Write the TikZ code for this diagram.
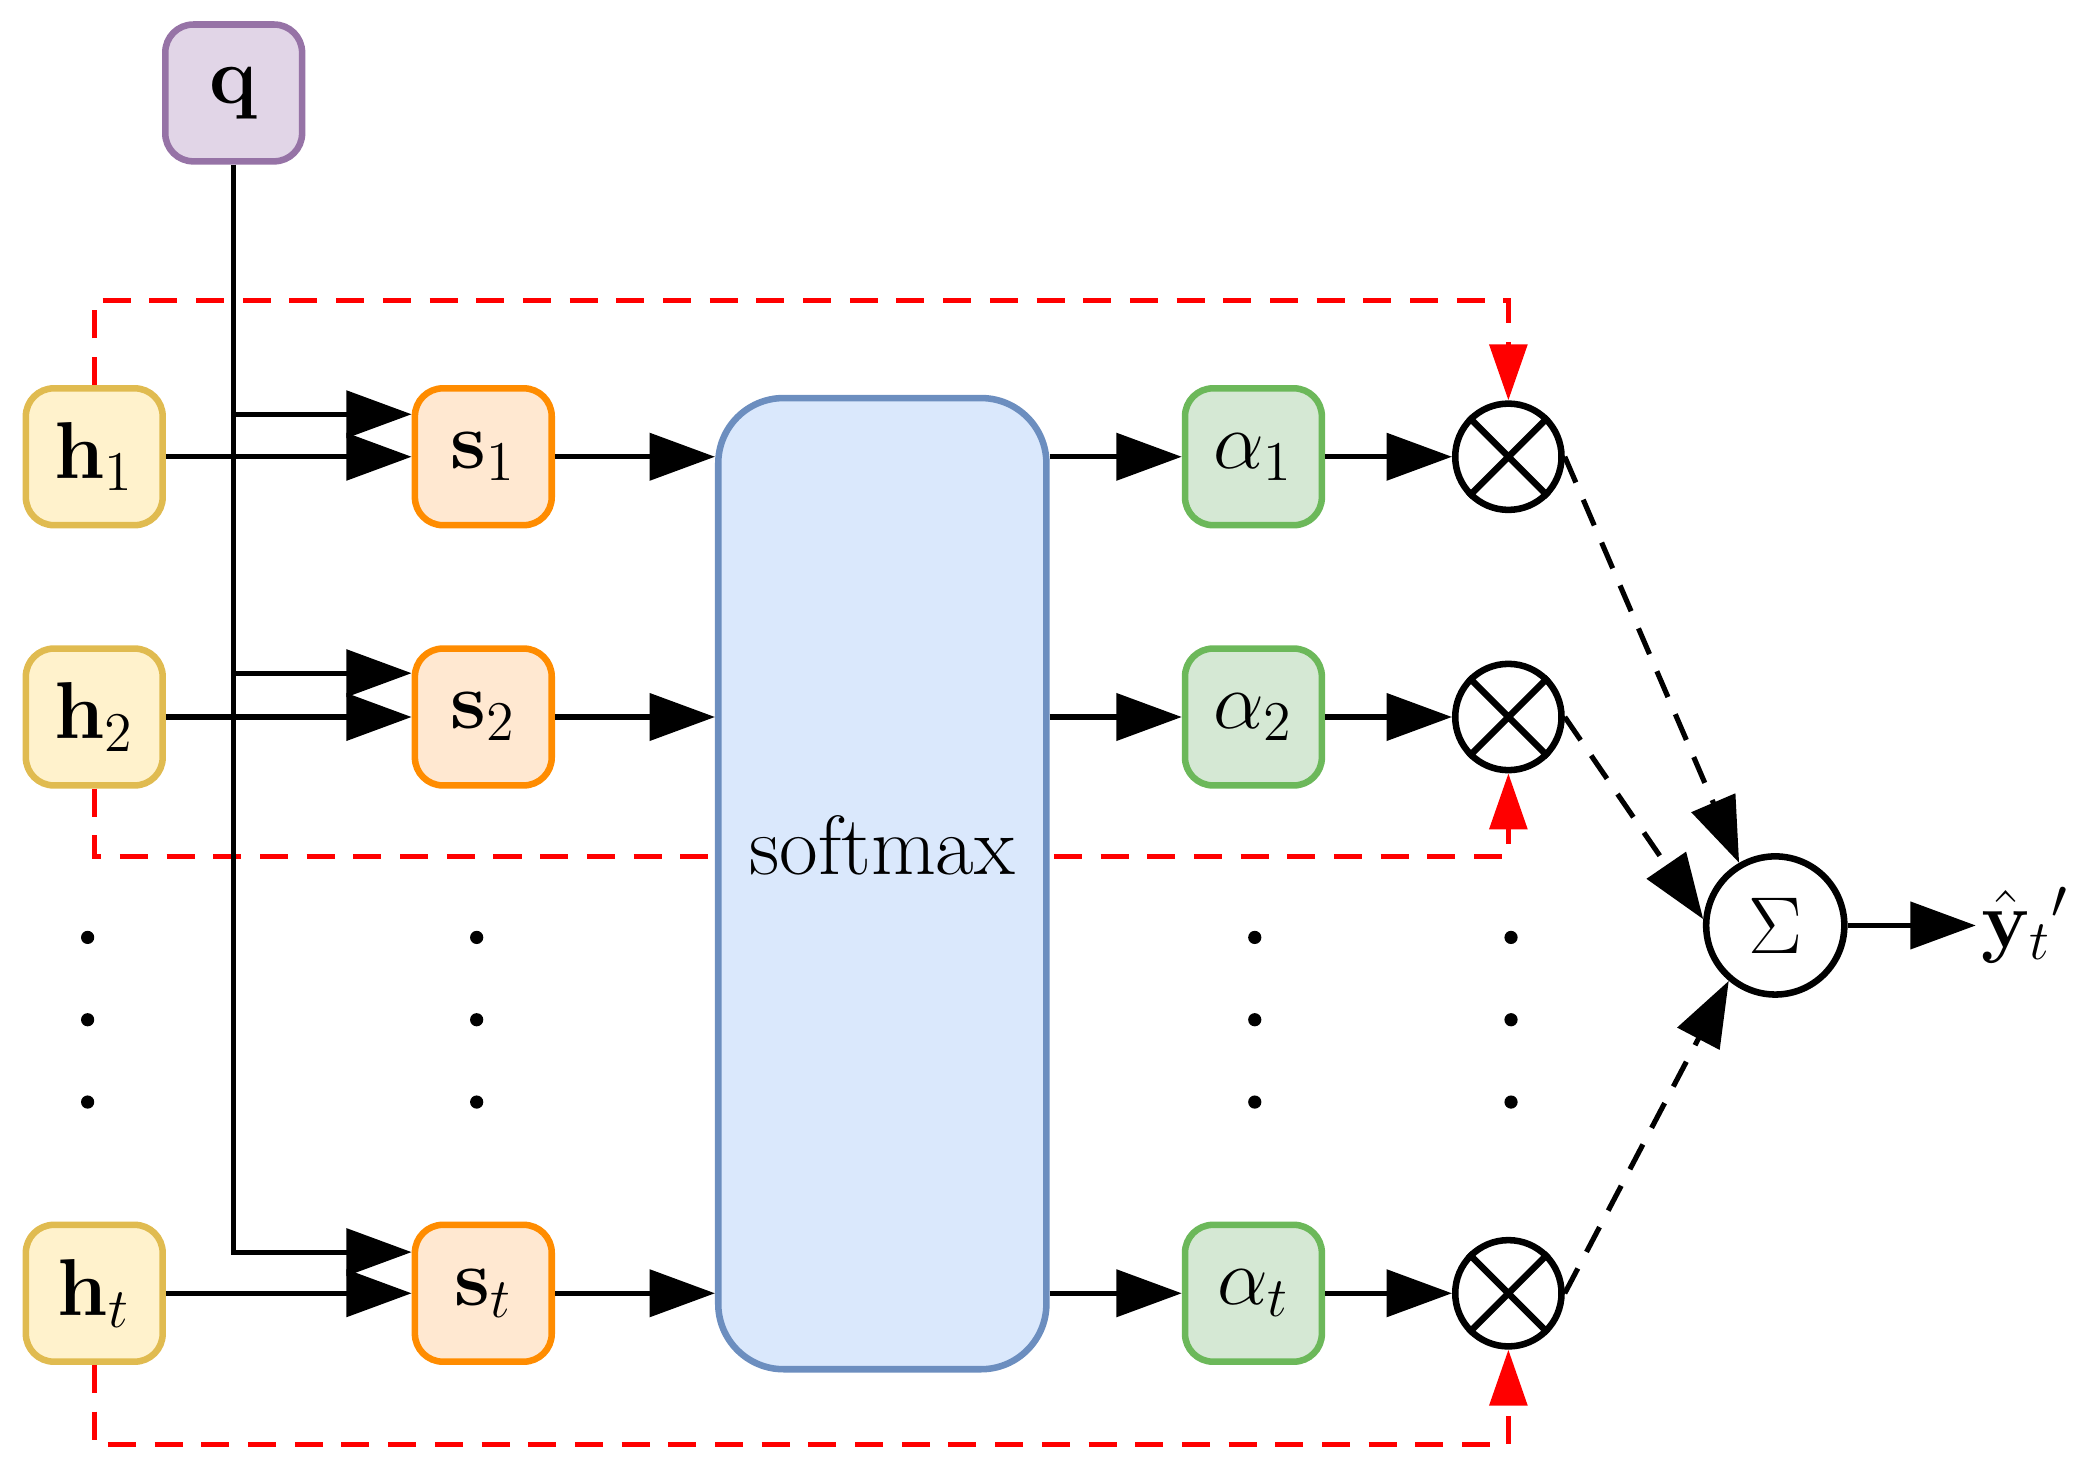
\documentclass[tikz,border=0pt]{standalone}
\usepackage{amsmath,amssymb}
\usetikzlibrary{arrows.meta}
\begin{document}
\begin{tikzpicture}[x=0.01cm,y=-0.01cm,
 box/.style={draw,line width=1.4pt,rounded corners=6pt,minimum width=1.03cm,minimum height=1.03cm,inner sep=0pt,font=\fontsize{18}{20}\selectfont},
 hb/.style={box,fill=hf,draw=hd},
 sb/.style={box,fill=orange!18,draw=orange!90!yellow},
 ab/.style={box,fill=gf,draw=gd},
 ar/.style={line width=1.1pt,-{Triangle[length=14pt,width=10pt]}},
 da/.style={ar,dash pattern=on 6pt off 4pt},
 rd/.style={draw=red,line width=1.1pt,dash pattern=on 6pt off 4pt,-{Triangle[length=12pt,width=8pt]}},
 ot/.style={circle,draw,line width=1.4pt,minimum size=0.8cm,inner sep=0pt},
 dt/.style={circle,fill,inner sep=1pt}]
\definecolor{qf}{HTML}{E1D5E7}\definecolor{qd}{HTML}{9673A6}
\definecolor{sf}{HTML}{DAE8FC}\definecolor{sd}{HTML}{6C8EBF}
\definecolor{hf}{HTML}{FFF2CC}\definecolor{hd}{HTML}{E0BB50}
\definecolor{gf}{HTML}{D5E8D4}\definecolor{gd}{HTML}{6CB85A}
\useasboundingbox (0,0) rectangle (1568,1110);
\node[box,fill=qf,draw=qd] (q) at (176,70) {$\mathbf{q}$};
\node[hb] (h1) at (71,344) {$\mathbf{h}_1$};
\node[hb] (h2) at (71,540) {$\mathbf{h}_2$};
\node[hb] (ht) at (71,974) {$\mathbf{h}_t$};
\node[sb] (s1) at (364,344) {$\mathbf{s}_1$};
\node[sb] (s2) at (364,540) {$\mathbf{s}_2$};
\node[sb] (st) at (364,974) {$\mathbf{s}_t$};
\node[ab] (a1) at (944,344) {$\alpha_1$};
\node[ab] (a2) at (944,540) {$\alpha_2$};
\node[ab] (at) at (944,974) {$\alpha_t$};
\node[ot] (o1) at (1136,344) {}; \node[ot] (o2) at (1136,540) {}; \node[ot] (ot) at (1136,974) {};
\foreach \o in {o1,o2,ot}{\draw[line width=1.4pt] (\o.45)--(\o.225) (\o.135)--(\o.-45);}
\node[circle,draw,line width=1.4pt,minimum size=1.04cm,inner sep=0pt,font=\fontsize{16}{18}\selectfont] (sg) at (1337,697) {$\Sigma$};
\node[anchor=west,font=\fontsize{17}{19}\selectfont,inner sep=1pt] (y) at (1488,697) {$\hat{\mathbf{y}}_t{}'$};
% red dashed
\draw[rd] (h1.north) -- (71,226) -- (1136,226) -- (o1.north);
\draw[rd] (h2.south) -- (71,645) -- (1136,645) -- (o2.south);
\draw[rd] (ht.south) -- (71,1088) -- (1136,1088) -- (ot.south);
% softmax
\node[draw=sd,fill=sf,line width=1.4pt,rounded corners=14pt,minimum width=2.47cm,minimum height=7.31cm] (sm) at (664.5,665.5) {};
\node[font=\fontsize{18}{20}\selectfont] (smt) at (664.5,637) {softmax};
% q lines
\coordinate (qb) at (176,943);
\draw[ar] (q.south) |- (st.west|-qb);
\draw[ar] (176,312) -- (s1.west|-176,312);
\draw[ar] (176,507) -- (s2.west|-176,507);
\draw[ar] (h1) -- (s1); \draw[ar] (h2) -- (s2); \draw[ar] (ht) -- (st);
\draw[ar] (s1) -- (sm.west|-s1); \draw[ar] (s2) -- (sm.west|-s2); \draw[ar] (st) -- (sm.west|-st);
\draw[ar] (sm.east|-a1) -- (a1); \draw[ar] (sm.east|-a2) -- (a2); \draw[ar] (sm.east|-at) -- (at);
\draw[ar] (a1) -- (o1); \draw[ar] (a2) -- (o2); \draw[ar] (at) -- (ot);
\draw[da] (o1.east) -- (sg.120);
\draw[da] (o2.east) -- (sg.175);
\draw[da] (ot.east) -- (sg.230);
\draw[ar] (sg) -- (y);
\foreach \x in {66,359,945,1138}\foreach \yy in {706,768,830}\node[dt] at (\x,\yy) {};
\end{tikzpicture}
\end{document}
